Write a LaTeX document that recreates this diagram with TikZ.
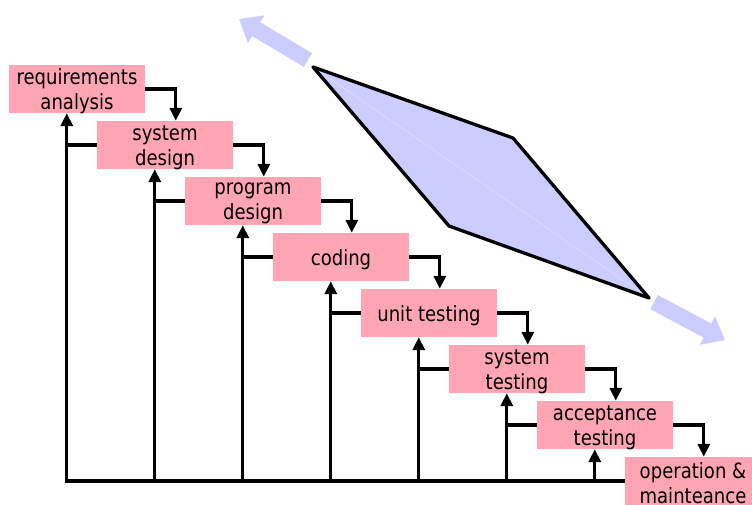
\documentclass[tikz,border=0pt]{standalone}
\usepackage{fontspec}
\setmainfont{DejaVu Sans}[FakeStretch=0.86]
\usetikzlibrary{arrows.meta,calc}
\definecolor{boxpink}{RGB}{255,165,180}
\definecolor{lav}{RGB}{204,204,255}
\definecolor{lavlight}{RGB}{222,222,255}
\begin{document}
\begin{tikzpicture}[x=1pt,y=-1pt,
  box/.style={fill=boxpink,draw=none,minimum width=136pt,minimum height=48pt,inner sep=0pt,
    label={[boxtext]center:{#1}}},
  boxtext/.style={align=center,inner sep=0pt,yshift=-2.5pt,font=\fontsize{21}{25}\selectfont},
  conn/.style={line width=3.3pt},
  arr/.style={conn,-{Triangle[width=12pt,length=13pt]}},
  bigarr/.style={lav,line width=16pt,-{Triangle[width=31pt,length=20pt]}}]
\useasboundingbox (0,0) rectangle (752,504);
% parallelogram
\coordinate (p1) at (313,67);
\coordinate (p2) at (513,138);
\coordinate (p3) at (649,298);
\coordinate (p4) at (449,226);
\fill[lav] (p1) -- (p2) -- (p3) -- (p4) -- cycle;
\draw[lavlight,line width=0.6pt] (p1) -- (p3);
\draw[line width=3.3pt,line join=round] (p1) -- (p2) -- (p3) -- (p4) -- cycle;
% big arrows
\coordinate (a1s) at (308,60);
\coordinate (a1e) at (239,19);
\coordinate (a2s) at (654,302);
\coordinate (a2e) at (725,340);
\draw[bigarr] (a1s) -- (a1e);
\draw[bigarr] (a2s) -- (a2e);
% boxes
\node[box={requirements\\analysis}] (b0) at (77,89) {};
\node[box={system\\design}] (b1) at (165,145) {};
\node[box={program\\design}] (b2) at (253,201) {};
\node[box={coding}] (b3) at (341,257) {};
\node[box={unit testing}] (b4) at (429,313) {};
\node[box={system\\testing}] (b5) at (517,369) {};
\node[box={acceptance\\testing}] (b6) at (605,425) {};
\node[box={operation \&\\mainteance}] (b7) at (693,481) {};
% forward arrows
\foreach \i/\j in {b0/b1,b1/b2,b2/b3,b3/b4,b4/b5,b5/b6,b6/b7}{
  \draw[arr] (\i.east) -| ([xshift=79pt]\j.north west);
}
% backward arrows
\foreach \i/\j in {b0/b1,b1/b2,b2/b3,b3/b4,b4/b5,b5/b6,b6/b7}{
  \coordinate (x\i) at ([xshift=58pt]\i.south west);
  \draw[arr] (x\i |- b7.west) -- (x\i);
  \draw[conn] (\j.west) -- (x\i |- \j.west);
}
\draw[conn] ([xshift=-1.65pt]xb0 |- b7.west) -- (b7.west);
\end{tikzpicture}
\end{document}
